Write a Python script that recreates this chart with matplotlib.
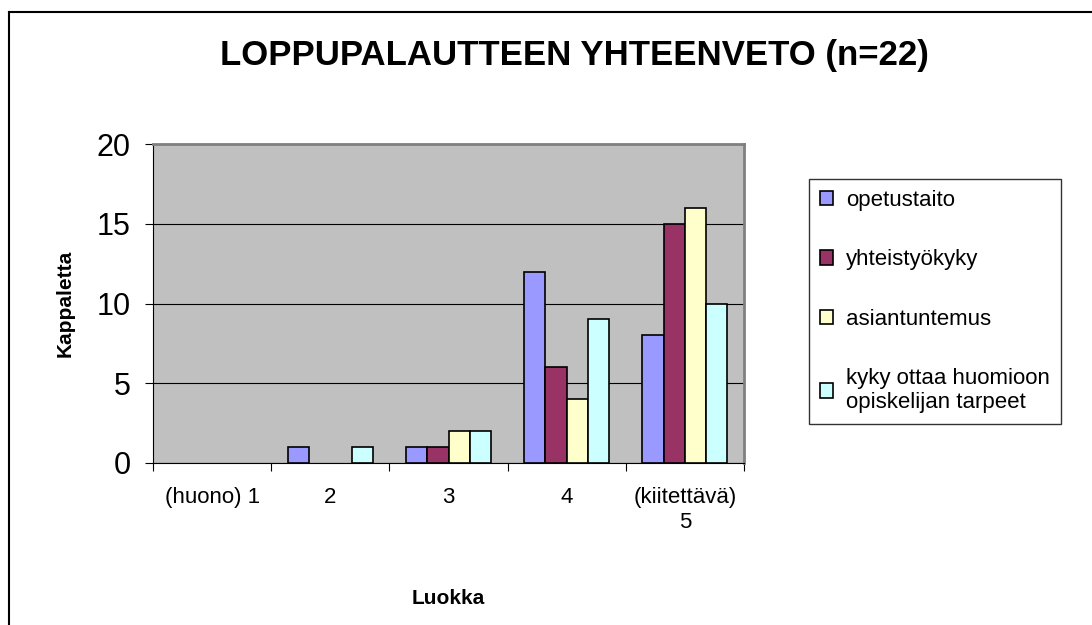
import matplotlib.pyplot as plt
import numpy as np
from matplotlib.lines import Line2D
from matplotlib.patches import Patch

# data
categories = ['(huono) 1', '2', '3', '4', '(kiitettävä)\n5']
series_names = ['opetustaito', 'yhteistyökyky', 'asiantuntemus',
                'kyky ottaa huomioon\nopiskelijan tarpeet']
opetustaito = [0, 1, 1, 12, 8]
yhteistyokyky = [0, 0, 1, 6, 15]
asiantuntemus = [0, 0, 2, 4, 16]
kyky = [0, 1, 2, 9, 10]
colors = ['#9999FF', '#993366', '#FFFFCC', '#CCFFFF']

plt.rcParams['font.family'] = ['Liberation Sans', 'DejaVu Sans']

fig = plt.figure(figsize=(10.92, 6.25), dpi=100)
ax = fig.add_axes([153 / 1092, 1 - 463 / 625, 591 / 1092, 319 / 625])
ax.set_facecolor('#C0C0C0')

# outer chart frame (cropped at right/bottom)
fig.add_artist(Line2D([9 / 1092, 9 / 1092], [0, 1 - 12 / 625],
                      transform=fig.transFigure, color='black', lw=1.5))
fig.add_artist(Line2D([9 / 1092, 1], [1 - 12 / 625, 1 - 12 / 625],
                      transform=fig.transFigure, color='black', lw=1.5))

x = np.arange(len(categories))
w = 0.18
all_series = [opetustaito, yhteistyokyky, asiantuntemus, kyky]
handles = []
for i, (vals, c, name) in enumerate(zip(all_series, colors, series_names)):
    # zero-height bars are not drawn in the original
    lws = [1.2 if v > 0 else 0 for v in vals]
    ax.bar(x + (i - 1.5) * w, vals, w, color=c, edgecolor='black',
           linewidth=lws, zorder=3)
    handles.append(Patch(facecolor=c, edgecolor='black', linewidth=1.2, label=name))

ax.set_xlim(-0.5, len(categories) - 0.5)
ax.set_ylim(0, 20)
ax.set_yticks([0, 5, 10, 15, 20])
ax.set_xticks(np.arange(len(categories) + 1) - 0.5, minor=False)
ax.set_xticklabels([])
ax.set_xticks(x, minor=True)
ax.set_xticklabels(categories, minor=True, fontsize=16, linespacing=1.3)
ax.tick_params(axis='x', which='minor', length=0, pad=17)
ax.tick_params(axis='x', which='major', length=6, direction='out', color='black')
ax.tick_params(axis='y', length=6, direction='out', labelsize=22, pad=10)
ax.grid(axis='y', color='black', linewidth=0.8, zorder=1)

for side in ['top', 'right']:
    ax.spines[side].set_color('#808080')
    ax.spines[side].set_linewidth(2)
ax.spines['left'].set_color('black')
ax.spines['bottom'].set_color('black')

ax.set_xlabel('Luokka', fontsize=15, fontweight='bold', labelpad=40)
ax.set_ylabel('Kappaletta', fontsize=15, fontweight='bold', labelpad=16)
fig.text(0.526, 1 - 56 / 625, 'LOPPUPALAUTTEEN YHTEENVETO (n=22)',
         ha='center', va='center', fontsize=25, fontweight='bold')

leg = fig.legend(handles=handles, loc='upper left',
                 bbox_to_anchor=(809 / 1092, 1 - 179 / 625),
                 fontsize=16, frameon=True, fancybox=False, edgecolor='black',
                 handlelength=0.6, handleheight=0.6, handletextpad=0.55,
                 labelspacing=1.72, borderpad=0.5, borderaxespad=0)
leg.get_frame().set_linewidth(1)

plt.savefig('out.png', dpi=100)
